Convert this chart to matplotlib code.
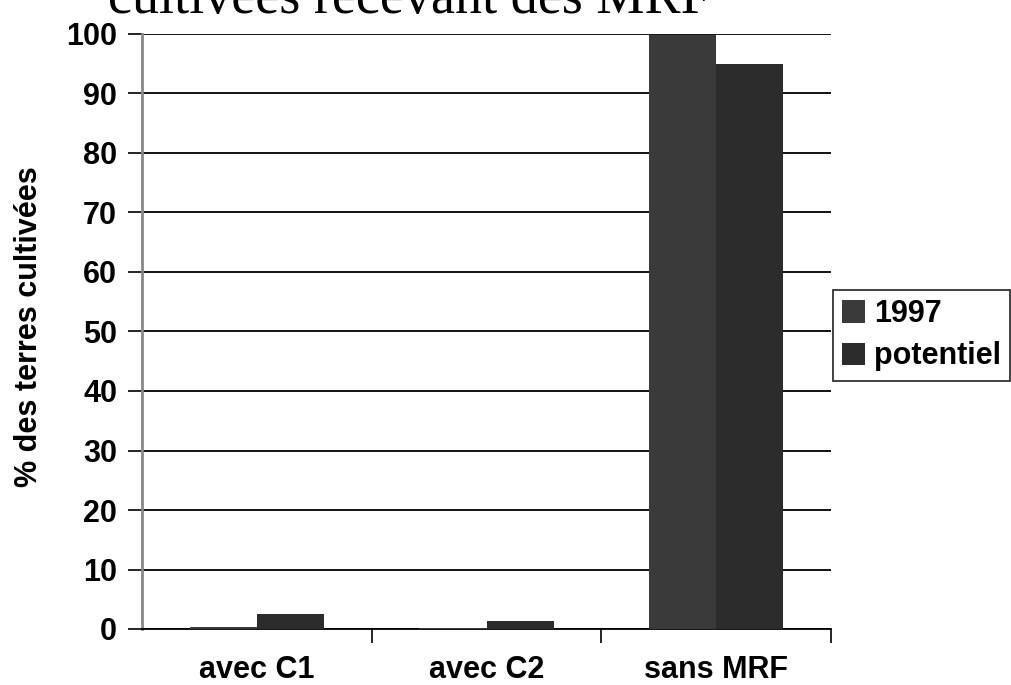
import numpy as np
import matplotlib.pyplot as plt

categories = ['avec C1', 'avec C2', 'sans MRF']
val_1997 = [0.3, 0.2, 99.8]
val_potentiel = [2.6, 1.3, 95.0]
yticks = [0, 10, 20, 30, 40, 50, 60, 70, 80, 90, 100]

W, H = 1011, 685
fig = plt.figure(figsize=(W / 100, H / 100), dpi=100)
ax = fig.add_axes([142 / W, (H - 629) / H, (831 - 142) / W, (629 - 34) / H])

x = np.arange(len(categories))
w = 0.292
ax.bar(x - w / 2, val_1997, w, color='#3a3a3a', label='1997', zorder=3)
ax.bar(x + w / 2, val_potentiel, w, color='#2c2c2c', label='potentiel', zorder=3)

ax.set_xlim(-0.5, 2.5)
ax.set_ylim(0, 100)
ax.set_yticks(yticks)
ax.set_yticklabels([str(t) for t in yticks], fontsize=22, fontweight='bold',
                   family='Liberation Sans')
ax.set_xticks([0.5, 1.5, 2.5], minor=False)
ax.set_xticklabels([])
ax.set_xticks(x, minor=True)
ax.set_xticklabels(categories, minor=True, fontsize=22, fontweight='bold',
                   family='Liberation Sans')
ax.tick_params(axis='x', which='minor', length=0, pad=19)
ax.tick_params(axis='x', which='major', length=10, width=1.2, direction='out')
ax.tick_params(axis='y', length=10, width=1.2, direction='out', pad=8)

for t in yticks:
    ax.axhline(t, color='black', lw=1.3, zorder=2)

for s in ['top', 'right']:
    ax.spines[s].set_visible(False)
ax.spines['left'].set_color('#888888')
ax.spines['left'].set_linewidth(2)
ax.spines['bottom'].set_linewidth(1.3)

ax.set_ylabel('% des terres cultivées', fontsize=22, fontweight='bold',
              family='Liberation Sans')
ax.yaxis.set_label_coords(-0.142, 0.508)

leg = fig.legend(loc='upper left', bbox_to_anchor=(833 / W, (H - 290) / H),
                 prop={'family': 'Liberation Sans', 'weight': 'bold', 'size': 22},
                 frameon=True, fancybox=False, edgecolor='black',
                 handlelength=0.75, handleheight=0.75, handletextpad=0.3,
                 borderpad=0.3, labelspacing=0.4, borderaxespad=0)
leg.get_frame().set_linewidth(1.3)

fig.text(108 / W, (H - 13) / H, 'cultivées recevant des MRF', fontsize=39,
         family='Liberation Serif', va='baseline', ha='left')

fig.savefig('out.png', dpi=100)
